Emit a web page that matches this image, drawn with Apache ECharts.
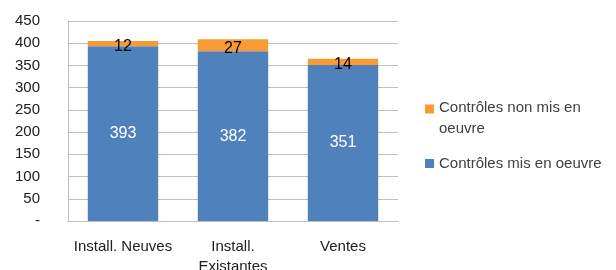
<!DOCTYPE html>
<html>
<head>
<meta charset="utf-8">
<script src="https://cdn.jsdelivr.net/npm/echarts@6/dist/echarts.min.js"></script>
<style>
  html, body { margin: 0; padding: 0; background: #fff; }
  #chart { width: 616px; height: 270px; }
</style>
</head>
<body>
<div id="chart"></div>
<script>
var categories = ['Install. Neuves', 'Install.\nExistantes', 'Ventes'];
var misEnOeuvre = [393, 382, 351];
var nonMisEnOeuvre = [12, 27, 14];
var seriesNames = ['Contrôles non mis en\noeuvre', 'Contrôles mis en oeuvre'];

var font = 'Liberation Sans';
// legend squares: orange one sits on the first text line, blue one centred
var iconTop = 'path://M0,0L9,0L9,9L0,9Z M0,27L0.01,27';
var iconMid = 'path://M0,9L9,9L9,18L0,18Z M0,0L0.01,0 M0,27L0.01,27';

var myChart = echarts.init(document.getElementById('chart'));
var option = {
  animation: false,
  textStyle: { fontFamily: font },
  grid: { left: 68, right: 218, top: 21, bottom: 49, outerBoundsMode: 'none', containLabel: false },
  legend: {
    orient: 'vertical',
    left: 420,
    top: 92,
    itemWidth: 9,
    itemHeight: 27,
    itemGap: 11,
    data: [
      { name: seriesNames[0], icon: iconTop },
      { name: seriesNames[1], icon: iconMid }
    ],
    textStyle: { fontSize: 15, color: '#404040', lineHeight: 21, fontFamily: font }
  },
  xAxis: {
    type: 'category',
    data: categories,
    axisTick: { show: false },
    axisLine: { lineStyle: { color: '#bfbfbf' } },
    axisLabel: { interval: 0, color: '#202020', fontSize: 15, margin: 16, lineHeight: 20, fontFamily: font }
  },
  yAxis: {
    type: 'value',
    min: 0,
    max: 450,
    interval: 50,
    axisLine: { show: true, lineStyle: { color: '#bfbfbf' } },
    axisTick: { show: false },
    splitLine: { lineStyle: { color: '#bfbfbf' } },
    axisLabel: {
      color: '#202020', fontSize: 15, margin: 28, fontFamily: font,
      formatter: function (v) { return v === 0 ? '-' : v; }
    }
  },
  series: [
    {
      name: seriesNames[1],
      type: 'bar',
      stack: 'total',
      barWidth: '64%',
      data: misEnOeuvre,
      itemStyle: { color: '#4f81bd' },
      label: { show: true, position: 'inside', color: '#fff', fontSize: 16, fontFamily: font }
    },
    {
      name: seriesNames[0],
      type: 'bar',
      stack: 'total',
      data: nonMisEnOeuvre,
      itemStyle: { color: '#f99b35' },
      label: { show: true, position: 'inside', color: '#000', fontSize: 16, fontFamily: font, offset: [0, 3] }
    }
  ]
};
myChart.setOption(option);
</script>
</body>
</html>
